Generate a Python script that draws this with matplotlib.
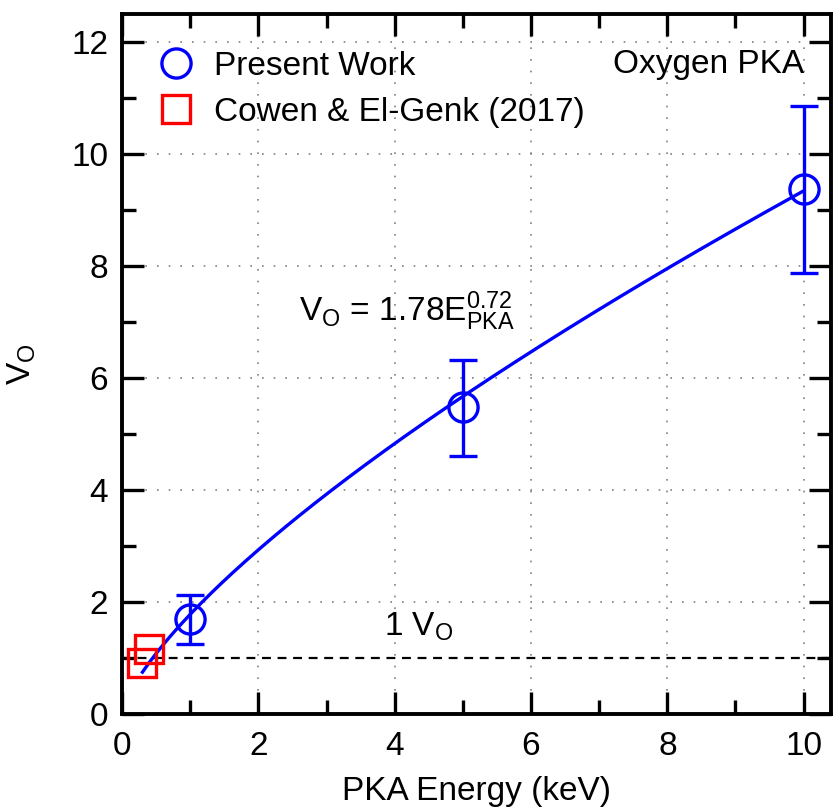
import numpy as np
import matplotlib
matplotlib.use('Agg')
import matplotlib.pyplot as plt
from matplotlib.ticker import MultipleLocator

plt.rcParams['font.family'] = ['Liberation Sans', 'DejaVu Sans']
plt.rcParams['mathtext.fontset'] = 'custom'
plt.rcParams['mathtext.rm'] = 'Liberation Sans'
plt.rcParams['mathtext.it'] = 'Liberation Sans'

# Present work: vacancies vs PKA energy
energy = [1, 5, 10]
vac = [1.70, 5.48, 9.38]
vac_lo = [1.25, 4.60, 7.88]
vac_hi = [2.13, 6.33, 10.86]

# Cowen & El-Genk (2017)
cowen_e = [0.30, 0.40]
cowen_v = [0.92, 1.16]

# power law fit
fit_a = 1.78
fit_b = 0.72
fit_range = [0.3, 10]

fig = plt.figure(figsize=(8.33, 8.08), dpi=100)
ax = fig.add_axes([0.1465, 0.1163, 0.851, 0.8664])

xs = np.linspace(fit_range[0], fit_range[1], 200)
ax.plot(xs, fit_a * xs**fit_b, color='blue', lw=2.4, zorder=3)

err = [np.array(vac) - np.array(vac_lo), np.array(vac_hi) - np.array(vac)]
ax.errorbar(energy, vac, yerr=err, fmt='none', ecolor='blue', elinewidth=2.4,
            capsize=10, capthick=2.4, zorder=3)
ax.plot(energy, vac, 'o', ms=21, mfc='none', mec='blue', mew=2.4,
        zorder=4, label='Present Work')
ax.plot(cowen_e, cowen_v, 's', ms=20, mfc='none', mec='red', mew=2.4,
        zorder=4, label='Cowen & El-Genk (2017)')

ax.axhline(1, color='black', ls=(0, (4, 3)), lw=1.6, zorder=2)

ax.set_xlim(0, 10.4)
ax.set_ylim(0, 12.5)
ax.xaxis.set_major_locator(MultipleLocator(2))
ax.xaxis.set_minor_locator(MultipleLocator(1))
ax.yaxis.set_major_locator(MultipleLocator(2))
ax.yaxis.set_minor_locator(MultipleLocator(1))
ax.tick_params(which='both', direction='in', top=True, right=True,
               width=2.4, labelsize=24)
ax.tick_params(axis='x', pad=12)
ax.tick_params(axis='y', pad=10)
ax.tick_params(which='major', length=16)
ax.tick_params(which='minor', length=10)
for s in ax.spines.values():
    s.set_linewidth(2.8)
ax.grid(True, which='major', color='gray', ls=(0, (1, 6)), lw=1.2)

ax.set_xlabel('PKA Energy (keV)', fontsize=24, labelpad=10)
ax.set_ylabel(r'V$_\mathrm{O}$', fontsize=24, labelpad=24)

ax.text(10.0, 11.6, 'Oxygen PKA', fontsize=24, ha='right', va='center')
ax.text(2.6, 7.2, r'V$_\mathrm{O}$ = 1.78E$_\mathrm{PKA}^{0.72}$',
        fontsize=24, ha='left', va='center')
ax.text(3.85, 1.55, r'1 V$_\mathrm{O}$', fontsize=24, ha='left', va='center')

ax.legend(loc='upper left', frameon=False, fontsize=24, handletextpad=0.35,
          labelspacing=0.45, borderpad=0.0, handlelength=1.6,
          bbox_to_anchor=(0.015, 0.971))

fig.savefig('out.png', dpi=100)
